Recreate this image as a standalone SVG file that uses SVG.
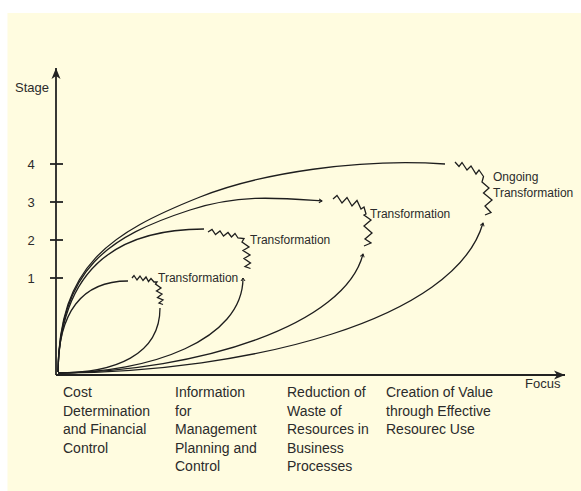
<svg xmlns="http://www.w3.org/2000/svg" width="581" height="491" viewBox="0 0 581 491">
<style>
text{font-family:"Liberation Sans",Arial,sans-serif;fill:#2b2b2b}
.lbl{font-size:14px}
.tr{font-size:12px}
.ax{font-size:13px}
.c{fill:none;stroke:#1e1e1e;stroke-width:1.3}
.z{fill:none;stroke:#1e1e1e;stroke-width:1.3;stroke-linejoin:miter}
.axis{fill:none;stroke:#222;stroke-width:1.8}
</style>
<defs>
<marker id="tip" markerUnits="userSpaceOnUse" markerWidth="8" markerHeight="8" refX="0" refY="0" viewBox="-4 -4 8 8" orient="auto">
<path d="M-3,-2 L0,0 L-3,2" fill="none" stroke="#1e1e1e" stroke-width="1"/>
</marker>
<marker id="arr" markerUnits="userSpaceOnUse" markerWidth="14" markerHeight="12" refX="0" refY="0" viewBox="-12 -6 14 12" orient="auto">
<path d="M0,0 L-11,-4.5 L-8,0 L-11,4.5 Z" fill="#222"/>
</marker>
</defs>
<rect x="0" y="0" width="581" height="491" fill="#ffffff"/>
<rect x="7.5" y="13" width="574" height="478" fill="#fffce0"/>

<g id="axes">
<line class="axis" x1="56" y1="375" x2="56" y2="68" marker-end="url(#arr)"/>
<line class="axis" x1="56" y1="375" x2="565" y2="375" marker-end="url(#arr)"/>
<line class="axis" x1="50" y1="164" x2="63" y2="164"/>
<line class="axis" x1="50" y1="202" x2="63" y2="202"/>
<line class="axis" x1="50" y1="240" x2="63" y2="240"/>
<line class="axis" x1="50" y1="278" x2="63" y2="278"/>
<text class="ax" x="15" y="92">Stage</text>
<text class="ax" x="31" y="168.5" text-anchor="middle">4</text>
<text class="ax" x="31" y="206.5" text-anchor="middle">3</text>
<text class="ax" x="31" y="244.5" text-anchor="middle">2</text>
<text class="ax" x="31" y="282.5" text-anchor="middle">1</text>
<text class="ax" x="525" y="388">Focus</text>
</g>

<g id="connectors">
<path class="c" d="M58,372 C58,312 82,281 128,281"/>
<path class="c" d="M58,373 C115,373 160,355 160,308"/>
<path class="c" d="M58,372 C60,275 110,229 204,229"/>
<path class="c" d="M58,373 C150,373 243,340 243,278" marker-end="url(#tip)"/>
<path class="c" d="M58,372 C59,268 110,236 190,210 C240,193.75 280,198 322,201" marker-end="url(#tip)"/>
<path class="c" d="M58,373 C200,371 345,325 363,254" marker-end="url(#tip)"/>
<path class="c" d="M58,372 C59,265 110,233 200,197 C260,173 360,158 445,164"/>
<path class="c" d="M58,373 C250,372 455,320 483,223" marker-end="url(#tip)"/>
</g>

<g id="stage1">
<polyline class="z" points="132,278 134,275.5 137,280 140,276 143,280.5 146,277 148.5,281.5 151,278.5 154,282 157,282 155.5,284 161,288 156.5,291 162,294 157.5,297.5 163,300 159,303 163,304.5"/>
<text class="tr" x="158" y="282">Transformation</text>
</g>

<g id="stage2">
<polyline class="z" points="208,232 212,229.5 215.5,234.5 220,231 223.5,236 228,232.5 231.5,237 235,233.5 238,238 244,238.5 242,242 249,247 243,250.5 250,255 244,258.5 250.5,263 245,266.5 250.5,268.5"/>
<text class="tr" x="250" y="244">Transformation</text>
</g>

<g id="stage3">
<polyline class="z" points="333,199 337,195.5 342,203 347,197.5 352,206 357,200.5 361,209 364,207 366,214 364,215 371,220 364,226 372,233 365,239 371,243 364,246"/>
<text class="tr" x="370" y="218">Transformation</text>
</g>

<g id="stage4">
<polyline class="z" points="455,162 459,166.5 462,162.5 467,170 471,166 476,174 479,170 483.5,176.5 482,182 489,188 483.5,193 492,200 485,206 491,212.5 485,215"/>
<text class="tr" x="493" y="181">Ongoing</text>
<text class="tr" x="493" y="197">Transformation</text>
</g>

<g id="labels">
<text class="lbl" x="63" y="397">Cost</text>
<text class="lbl" x="63" y="415.5">Determination</text>
<text class="lbl" x="63" y="434">and Financial</text>
<text class="lbl" x="63" y="452.5">Control</text>
<text class="lbl" x="175" y="397">Information</text>
<text class="lbl" x="175" y="415.5">for</text>
<text class="lbl" x="175" y="434">Management</text>
<text class="lbl" x="175" y="452.5">Planning and</text>
<text class="lbl" x="175" y="471">Control</text>
<text class="lbl" x="287" y="397">Reduction of</text>
<text class="lbl" x="287" y="415.5">Waste of</text>
<text class="lbl" x="287" y="434">Resources in</text>
<text class="lbl" x="287" y="452.5">Business</text>
<text class="lbl" x="287" y="471">Processes</text>
<text class="lbl" x="386" y="397">Creation of Value</text>
<text class="lbl" x="386" y="415.5">through Effective</text>
<text class="lbl" x="386" y="434">Resourec Use</text>
</g>
</svg>
